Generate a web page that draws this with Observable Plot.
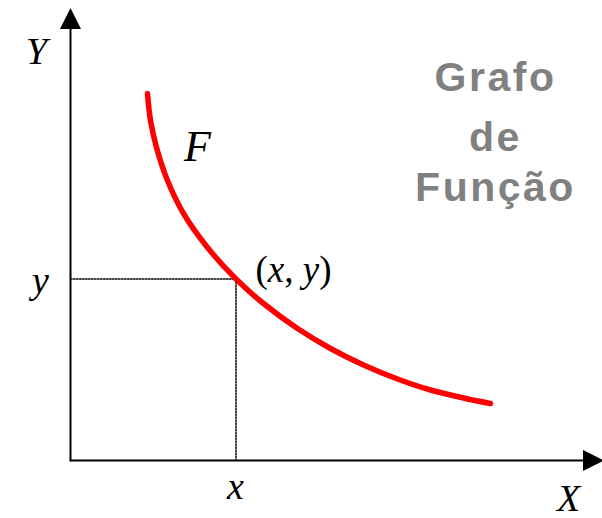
<!DOCTYPE html>
<html><head><meta charset="utf-8">
<script src="https://cdn.jsdelivr.net/npm/d3@7"></script>
<script src="https://cdn.jsdelivr.net/npm/@observablehq/plot@0.6"></script>
<style>body{margin:0;background:#fff}</style>
</head><body><div id="chart"></div>
<script>
// Curve F (origin at the axes' crossing)
const curveX = [77, 80, 86, 97, 113, 137, 165, 193, 227, 260, 293, 327, 360, 393, 420];
const curveY = [367, 340, 313, 280, 247, 213, 182, 157, 132, 112, 95.5, 81.5, 70.5, 62.5, 57];
// marked point (x, y)
const pointX = 165.5;
const pointY = 181.5;
// axis extents
const xAxisEnd = 513, xArrowAt = 523;
const yAxisEnd = 432, yArrowAt = 442;
// italic labels
const labelText = ["Y", "F", "y", "x", "X"];
const labelX = [-34, 127, -30, 165, 498];
const labelY = [409, 314, 180, -26, -38];
const labelSize = [38, 44, 38, 38, 38];
// point label
const pointLabel = "(x, y)";
const pointLabelX = 185, pointLabelY = 190;
// title
const titleLines = ["Grafo", "de", "Função"];
const titleX = 425;
const titleY = [383, 323, 273];

const curve = curveX.map((x, i) => ({x, y: curveY[i]}));
const labels = labelText.map((t, i) => ({t, x: labelX[i], y: labelY[i], s: labelSize[i]}));
const title = titleLines.map((t, i) => ({t, x: titleX, y: titleY[i]}));

const arrowHead = {
  draw(ctx) {
    const w = 21, h = 21;
    ctx.moveTo(0, -h / 2);
    ctx.lineTo(w / 2, h / 2);
    ctx.lineTo(-w / 2, h / 2);
    ctx.closePath();
  }
};

const marks = [
  // axes
  Plot.line([{x: 0, y: 0}, {x: xAxisEnd, y: 0}], {x: "x", y: "y", stroke: "black", strokeWidth: 2}),
  Plot.line([{x: 0, y: 0}, {x: 0, y: yAxisEnd}], {x: "x", y: "y", stroke: "black", strokeWidth: 2}),
  Plot.dot([{x: 0, y: yArrowAt}], {x: "x", y: "y", symbol: arrowHead, r: 10, fill: "black", stroke: "none"}),
  Plot.dot([{x: xArrowAt, y: 0}], {x: "x", y: "y", symbol: arrowHead, r: 10, fill: "black", stroke: "none", rotate: 90}),
  // dotted guides
  Plot.line([{x: 0, y: pointY}, {x: pointX, y: pointY}], {x: "x", y: "y", stroke: "black", strokeWidth: 1.5, strokeDasharray: "1.5,1.5"}),
  Plot.line([{x: pointX, y: pointY}, {x: pointX, y: 0}], {x: "x", y: "y", stroke: "black", strokeWidth: 1.5, strokeDasharray: "1.5,1.5"}),
  // curve
  Plot.line(curve, {x: "x", y: "y", curve: "catmull-rom", stroke: "#ff0000", strokeWidth: 5.5, strokeLinecap: "round"}),
  // labels
  ...labels.map(d => Plot.text([d], {x: "x", y: "y", text: "t", fontSize: d.s, fontStyle: "italic", fontFamily: "Liberation Serif", fill: "black"})),
  Plot.text([{x: pointLabelX, y: pointLabelY, t: pointLabel}], {x: "x", y: "y", text: "t", fontSize: 37, fontFamily: "Liberation Serif", textAnchor: "start", fill: "black"}),
  Plot.text(title, {x: "x", y: "y", text: "t", fontSize: 41, fontWeight: "bold", fontFamily: "Liberation Sans", fill: "#808080"})
];

const svg = Plot.plot({
  width: 602, height: 518,
  marginLeft: 0, marginRight: 0, marginTop: 0, marginBottom: 0,
  x: {domain: [-70, 532], axis: null},
  y: {domain: [-58, 460], axis: null},
  style: {background: "white", overflow: "visible"},
  marks
});

// mixed upright / italic in the point label, and letter spacing on the title
d3.select(svg).selectAll("text").each(function () {
  const el = d3.select(this);
  const txt = this.textContent;
  if (txt === pointLabel) {
    el.text(null);
    [["(", "normal"], ["x", "italic"], [", ", "normal"], ["y", "italic"], [")", "normal"]].forEach(([s, st]) => {
      el.append("tspan").attr("font-style", st).text(s);
    });
  } else if (titleLines.includes(txt)) {
    el.attr("letter-spacing", "2.5px");
  }
});

document.getElementById("chart").appendChild(svg);
</script>
</body></html>
